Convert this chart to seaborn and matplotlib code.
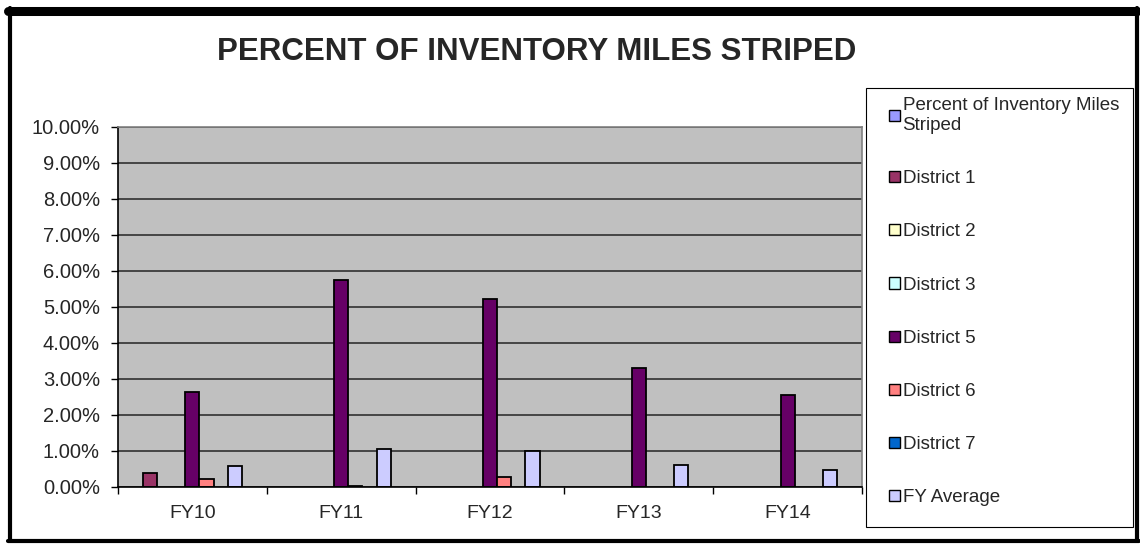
import numpy as np
import pandas as pd
import matplotlib
matplotlib.use("Agg")
import matplotlib.pyplot as plt
from matplotlib.patches import Patch, Rectangle
from matplotlib.lines import Line2D
from matplotlib.legend_handler import HandlerPatch
from matplotlib.ticker import FuncFormatter, FixedLocator
import seaborn as sns

# data (percent)
years = ["FY10", "FY11", "FY12", "FY13", "FY14"]
series = ["Percent of Inventory Miles Striped", "District 1", "District 2", "District 3",
          "District 5", "District 6", "District 7", "FY Average"]
nan = np.nan
pct_inventory = [nan, nan, nan, nan, nan]
district_1 = [0.38, nan, nan, nan, nan]
district_2 = [nan, nan, nan, nan, nan]
district_3 = [nan, nan, nan, nan, nan]
district_5 = [2.63, 5.75, 5.21, 3.31, 2.56]
district_6 = [0.23, 0.02, 0.29, nan, nan]
district_7 = [nan, nan, nan, nan, nan]
fy_average = [0.59, 1.05, 1.00, 0.60, 0.46]

colors = ["#9999FF", "#993366", "#FFFFCC", "#CCFFFF", "#660066",
          "#FF8080", "#0066CC", "#CCCCFF"]

values = [pct_inventory, district_1, district_2, district_3,
          district_5, district_6, district_7, fy_average]
rows = []
for name, vals in zip(series, values):
    for yr, v in zip(years, vals):
        rows.append({"year": yr, "series": name, "value": v})
df = pd.DataFrame(rows)

sns.set_style("white")
plt.rcParams['font.family'] = ['Liberation Sans', 'DejaVu Sans']

fig = plt.figure(figsize=(11.4, 5.45), dpi=100)
ax = fig.add_axes([118/1140, 1 - 487/545, (862 - 118)/1140, (487 - 127)/545])
ax.set_facecolor("#C0C0C0")

# excel leaves room for one more (empty) slot after FY Average
hue_order = series + [" "]
sns.barplot(data=df, x="year", y="value", hue="series", hue_order=hue_order,
            palette=colors + ["#000080"], width=9/10.5, errorbar=None,
            edgecolor="black", linewidth=1.3, saturation=1, legend=False, ax=ax)

ax.set_ylim(0, 10)
ax.set_xlim(-0.5, 4.5)
ax.set_yticks(np.arange(0, 11, 1))
ax.yaxis.set_major_formatter(FuncFormatter(lambda v, p: f"{v:.2f}%"))
ax.yaxis.grid(True, color="#303030", linewidth=1.2)
ax.set_axisbelow(True)
ax.set_xlabel("")
ax.set_ylabel("")
ax.tick_params(axis="y", labelsize=14.5, length=5, width=1, color="black", pad=8, left=True)
ax.tick_params(axis="x", which="major", labelsize=14, length=0, pad=13)
ax.xaxis.set_minor_locator(FixedLocator(np.arange(-0.5, 5, 1)))
ax.tick_params(axis="x", which="minor", length=5, width=1, color="black", bottom=True)

for side in ["left", "bottom"]:
    ax.spines[side].set_color("black")
    ax.spines[side].set_linewidth(1.2)
for side in ["top", "right"]:
    ax.spines[side].set_color("#808080")
    ax.spines[side].set_linewidth(1.2)

fig.text(537/1140, 1 - 52/545, "PERCENT OF INVENTORY MILES STRIPED",
         ha="center", va="center", fontsize=22.5, fontweight="bold")


# small square marker sitting at the right end of the handle box
def square(legend, orig_handle, xdescent, ydescent, width, height, fontsize):
    s = 0.6 * fontsize
    return Rectangle((-xdescent + width - s, -ydescent + (height - s) / 2), s, s)


labels = ["Percent of Inventory Miles\nStriped"] + series[1:]
handles = [Patch(facecolor=c, edgecolor="black", linewidth=1) for c in colors]
leg = fig.legend(handles, labels, loc="upper left", bbox_to_anchor=(866/1140, 1 - 90/545),
                 fontsize=13.5, frameon=False,
                 handlelength=1.4, handleheight=0.6, handletextpad=0.15,
                 labelspacing=1.93, borderpad=0.4, borderaxespad=0,
                 handler_map={Patch: HandlerPatch(patch_func=square)})

# legend box, drawn separately so it can be as tall as excel's
fig.add_artist(Rectangle((866/1140, 1 - 527/545), (1133 - 866)/1140, (527 - 88)/545,
                         transform=fig.transFigure, fill=False, edgecolor="black", lw=0.8))

# outer chart border
fig.add_artist(Line2D([8/1140, 1137/1140], [1 - 10.5/545] * 2, color="black", lw=6.5))
fig.add_artist(Line2D([10/1140, 10/1140], [1 - 8/545, 1 - 541/545], color="black", lw=3))
fig.add_artist(Line2D([1137/1140, 1137/1140], [1 - 8/545, 1 - 541/545], color="black", lw=3))
fig.add_artist(Line2D([8/1140, 1139/1140], [1 - 541/545] * 2, color="black", lw=3))

fig.savefig("out.png", dpi=100)
